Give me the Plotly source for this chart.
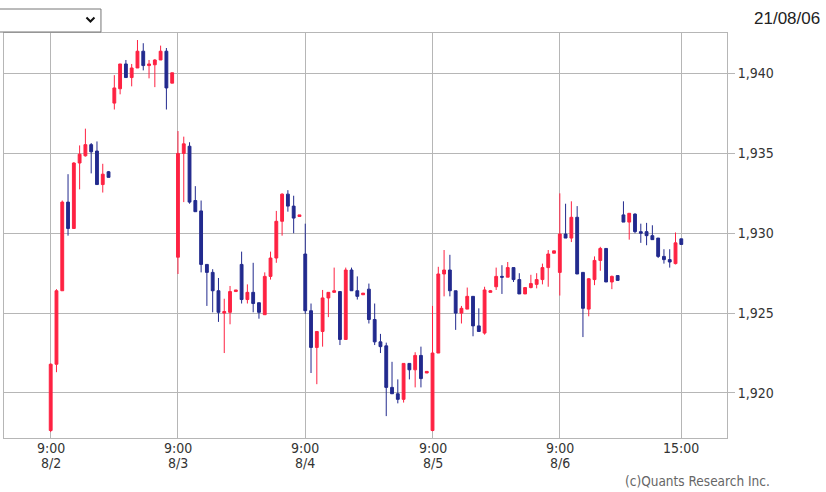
import plotly.graph_objects as go

# ---------------- data ----------------
DAYS = ["8/2", "8/3", "8/4", "8/5", "8/6"]
SLOTS_PER_DAY = 22
TICK_SLOTS = [0, 22, 44, 66, 88, 109]
TICK_TEXT = ["9:00", "9:00", "9:00", "9:00", "9:00", "15:00"]
Y_TICKS = [1920, 1925, 1930, 1935, 1940]

opens = [
    1917.65, 1921.8, 1926.4, 1931.95, 1930.3, 1934.4, 1934.85, 1935.55, 1935.15, 1933.05, 1933.85,
    1938.15, 1939.05, 1940.6, 1939.75, 1940.35, 1941.4, 1940.5, 1940.55, 1940.85, 1941.4, 1939.4,
    1928.5, 1935.0, 1935.45, 1932.05, 1931.4, 1928.05, 1927.55, 1926.4, 1925.0, 1925.05, 1926.35,
    1928.05, 1925.85, 1926.3, 1925.65, 1924.9, 1927.3, 1928.45, 1930.75, 1932.45, 1931.7, 1931.05,
    1928.7, 1925.15, 1922.85, 1923.85, 1925.95, 1926.3, 1926.35, 1923.35, 1927.7, 1926.4, 1926.15,
    1926.5, 1924.6, 1923.2, 1922.95, 1920.35, 1919.95, 1919.6, 1921.85, 1921.45, 1922.35, 1921.25,
    1917.65, 1922.5, 1927.45, 1927.7, 1926.4, 1925.0, 1925.25, 1926.05, 1924.2, 1923.75, 1926.3,
    1926.65, 1927.3, 1927.25, 1927.85, 1927.1, 1926.2, 1926.6, 1926.8, 1927.1, 1927.85, 1928.75,
    1927.55, 1929.95, 1929.7, 1931.0, 1927.55, 1925.25, 1927.1, 1928.3, 1929.05, 1926.95, 1927.35,
    1931.15, 1930.7, 1931.2, 1930.1, 1930.1, 1929.85, 1929.7, 1928.55, 1928.35, 1928.1, 1929.65,
]
highs = [
    1921.85, 1926.5, 1932.05, 1933.7, 1934.45, 1935.5, 1936.55, 1935.65, 1935.75, 1934.35, 1933.9,
    1939.9, 1940.6, 1940.85, 1940.6, 1942.1, 1941.9, 1940.85, 1940.9, 1941.75, 1941.6, 1940.05,
    1936.4, 1936.05, 1935.7, 1932.95, 1932.05, 1928.05, 1927.75, 1927.2, 1925.9, 1926.7, 1926.45,
    1928.85, 1926.8, 1928.15, 1925.65, 1927.55, 1928.85, 1931.4, 1932.5, 1932.7, 1932.35, 1931.15,
    1930.6, 1925.6, 1923.85, 1926.45, 1926.3, 1927.85, 1926.35, 1927.85, 1927.85, 1927.3, 1926.25,
    1926.85, 1925.6, 1923.7, 1923.15, 1921.95, 1920.85, 1921.85, 1921.85, 1922.55, 1922.9, 1921.35,
    1925.45, 1927.9, 1928.95, 1928.65, 1926.4, 1925.45, 1926.6, 1926.05, 1925.3, 1926.65, 1926.45,
    1927.85, 1928.0, 1928.2, 1927.85, 1927.5, 1926.6, 1927.4, 1927.5, 1928.1, 1928.95, 1928.9,
    1932.5, 1931.85, 1932.0, 1931.7, 1927.55, 1927.2, 1928.55, 1929.15, 1929.05, 1927.35, 1927.35,
    1932.0, 1931.25, 1931.25, 1930.6, 1930.65, 1930.5, 1929.7, 1929.0, 1929.0, 1930.05, 1929.65,
]
lows = [
    1917.55, 1921.3, 1926.4, 1929.85, 1930.3, 1932.75, 1934.8, 1933.75, 1933.05, 1932.55, 1933.5,
    1937.75, 1938.7, 1939.75, 1939.2, 1940.35, 1940.2, 1939.7, 1939.15, 1940.85, 1937.75, 1939.4,
    1927.45, 1931.95, 1931.85, 1931.35, 1927.55, 1925.45, 1925.05, 1924.45, 1922.5, 1924.3, 1926.35,
    1925.6, 1925.6, 1925.05, 1924.65, 1924.9, 1927.1, 1928.15, 1929.85, 1931.35, 1930.0, 1931.05,
    1924.95, 1921.25, 1920.55, 1922.9, 1924.75, 1926.3, 1923.0, 1923.35, 1926.4, 1925.85, 1926.15,
    1924.35, 1923.0, 1922.5, 1918.55, 1919.95, 1919.35, 1919.4, 1920.85, 1920.35, 1920.35, 1921.25,
    1917.6, 1922.5, 1926.05, 1926.05, 1923.95, 1924.35, 1925.25, 1923.55, 1923.85, 1923.65, 1926.3,
    1926.45, 1926.2, 1927.25, 1926.95, 1926.2, 1926.2, 1926.55, 1926.55, 1926.8, 1926.65, 1928.75,
    1926.1, 1929.7, 1929.45, 1927.45, 1923.5, 1924.8, 1926.75, 1927.65, 1926.95, 1926.5, 1927.05,
    1930.7, 1929.6, 1930.0, 1929.4, 1929.25, 1929.6, 1928.45, 1928.1, 1927.85, 1928.05, 1929.3,
]
closes = [
    1921.8, 1926.4, 1931.95, 1930.3, 1934.4, 1934.95, 1935.55, 1935.1, 1933.05, 1933.7, 1933.5,
    1939.1, 1940.6, 1939.75, 1940.35, 1941.4, 1940.5, 1940.6, 1940.85, 1941.4, 1939.1, 1940.05,
    1935.0, 1935.6, 1931.95, 1931.35, 1928.05, 1927.55, 1926.4, 1925.05, 1925.1, 1926.35, 1926.45,
    1925.85, 1926.3, 1925.6, 1925.05, 1927.3, 1928.45, 1930.75, 1932.45, 1931.7, 1930.95, 1931.15,
    1925.15, 1922.85, 1923.85, 1925.95, 1926.3, 1926.4, 1923.35, 1927.7, 1926.4, 1926.05, 1926.25,
    1924.6, 1923.2, 1922.9, 1920.35, 1919.95, 1919.6, 1921.85, 1921.45, 1922.35, 1920.9, 1921.35,
    1922.5, 1927.45, 1927.7, 1926.4, 1925.0, 1925.3, 1926.05, 1924.2, 1923.85, 1926.45, 1926.4,
    1927.3, 1927.25, 1927.85, 1927.1, 1926.2, 1926.6, 1926.85, 1927.1, 1927.85, 1928.7, 1928.9,
    1929.95, 1929.7, 1931.0, 1927.45, 1925.3, 1927.15, 1928.3, 1929.05, 1926.95, 1927.3, 1927.05,
    1930.7, 1931.25, 1930.1, 1930.0, 1929.85, 1929.6, 1928.55, 1928.35, 1928.2, 1929.4, 1929.3,
]

DATE_TEXT = "21/08/06"
COPYRIGHT = "(c)Quants Research Inc."

# ---------------- style ----------------
RED = "#fe2242"
BLUE = "#222a8e"
GRID = "#b6b6b6"
FONT = "DejaVu Sans Condensed, DejaVu Sans, sans-serif"
TXT = "#333"

W, H = 826, 492
PL, PR, PT, PB = 4, 727.3, 32.7, 437.7   # plot area pixel box


def px_x(p):
    return (p - PL) / (PR - PL)


def px_y(p):
    return (PB - p) / (PB - PT)


x = [d * SLOTS_PER_DAY + s for d in range(len(DAYS)) for s in range(SLOTS_PER_DAY)]

fig = go.Figure(go.Candlestick(
    x=x, open=opens, high=highs, low=lows, close=closes,
    increasing=dict(line=dict(color=RED, width=1), fillcolor=RED),
    decreasing=dict(line=dict(color=BLUE, width=1), fillcolor=BLUE),
    whiskerwidth=0, hoverinfo="skip", showlegend=False,
))

fig.update_layout(
    width=W, height=H, autosize=False,
    margin=dict(l=PL, r=W - PR, t=PT, b=H - PB, autoexpand=False),
    paper_bgcolor="white", plot_bgcolor="white",
    showlegend=False, hovermode=False,
    xaxis=dict(
        range=[-8.07, 116.9], tickmode="array", tickvals=TICK_SLOTS, ticktext=TICK_TEXT,
        showticklabels=False,
        showgrid=True, gridcolor=GRID, gridwidth=1, zeroline=False,
        showline=True, mirror=True, linecolor=GRID, linewidth=1,
        ticks="", rangeslider=dict(visible=False), fixedrange=True,
    ),
    yaxis=dict(
        range=[1917.18, 1942.54], side="right", tickmode="array", tickvals=Y_TICKS,
        tickformat=",d", showgrid=True, gridcolor=GRID, gridwidth=1, zeroline=False,
        showline=True, mirror=True, linecolor=GRID, linewidth=1,
        ticks="outside", ticklen=7, tickcolor=GRID, tickwidth=1,
        tickfont=dict(family=FONT, size=14, color=TXT), fixedrange=True,
    ),
)

ann = []
for tv, tt in zip(TICK_SLOTS, TICK_TEXT):
    ann.append(dict(x=tv, xref="x", y=px_y(447.5), yref="paper",
                    text=tt, showarrow=False, xanchor="center", yanchor="middle",
                    font=dict(family=FONT, size=14, color=TXT)))
for d, day in enumerate(DAYS):
    ann.append(dict(x=d * SLOTS_PER_DAY, xref="x", y=px_y(462.5), yref="paper",
                    text=day, showarrow=False, xanchor="center", yanchor="middle",
                    font=dict(family=FONT, size=14, color=TXT)))
ann.append(dict(x=px_x(698), xref="paper", y=px_y(481), yref="paper", text=COPYRIGHT,
                showarrow=False, xanchor="center", yanchor="middle",
                font=dict(family=FONT, size=13.5, color="#666")))
ann.append(dict(x=px_x(787), xref="paper", y=px_y(18), yref="paper", text=DATE_TEXT,
                showarrow=False, xanchor="center", yanchor="middle",
                font=dict(family="Liberation Sans, Arial, sans-serif", size=17, color="#222")))
fig.update_layout(annotations=ann)

shapes = [
    dict(type="rect", xref="paper", yref="paper",
         x0=px_x(-1), x1=px_x(101), y0=px_y(31.7), y1=px_y(8.7),
         line=dict(color="#767676", width=1), fillcolor="white", layer="above"),
    dict(type="path", xref="paper", yref="paper",
         path=f"M {px_x(86.5)},{px_y(17.2)} L {px_x(90.5)},{px_y(21.2)} L {px_x(94.5)},{px_y(17.2)}",
         line=dict(color="#111", width=2)),
]
fig.update_layout(shapes=shapes)

fig.write_html(
    "out.html",
    config={"displayModeBar": False, "staticPlot": True},
    post_script="document.body.style.margin='0px';document.body.style.overflow='hidden';",
)
